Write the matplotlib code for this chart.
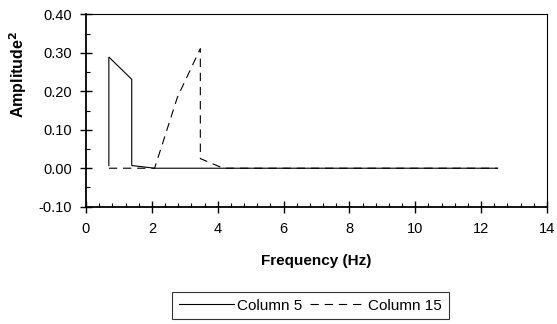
import matplotlib
matplotlib.use("Agg")
import matplotlib.pyplot as plt
from matplotlib.ticker import MultipleLocator, FormatStrFormatter

plt.rcParams['font.family'] = ['Liberation Sans', 'DejaVu Sans']
plt.rcParams['axes.unicode_minus'] = False
plt.rcParams['lines.scale_dashes'] = False

# Data
col5_freq = [0.694, 0.694, 1.389, 1.389, 2.083, 2.778, 3.472, 4.167, 4.861, 5.556,
             6.250, 6.944, 7.639, 8.333, 9.028, 9.722, 10.417, 11.111, 11.806, 12.500]
col5_amp = [0.007, 0.289, 0.231, 0.007, 0.000, 0.000, 0.000, 0.000, 0.000, 0.000,
            0.000, 0.000, 0.000, 0.000, 0.000, 0.000, 0.000, 0.000, 0.000, 0.000]
col15_freq = [0.694, 1.389, 2.083, 2.778, 3.472, 3.472, 4.167, 4.861, 5.556,
              6.250, 6.944, 7.639, 8.333, 9.028, 9.722, 10.417, 11.111, 11.806, 12.500]
col15_amp = [0.000, 0.000, 0.000, 0.185, 0.311, 0.025, 0.000, 0.000, 0.000,
             0.000, 0.000, 0.000, 0.000, 0.000, 0.000, 0.000, 0.000, 0.000, 0.000]
series_labels = ["Column 5", "Column 15"]
x_label = "Frequency (Hz)"
y_label = "Amplitude$^{\\mathbf{2}}$"

W, H = 557, 324
fig = plt.figure(figsize=(W / 100, H / 100), dpi=100)
ax = fig.add_axes([86 / W, 1 - 206.7 / H, (547 - 86) / W, (206.7 - 14.3) / H])

l1, = ax.plot(col5_freq, col5_amp, color='black', lw=0.8, solid_joinstyle='miter')
l2, = ax.plot(col15_freq, col15_amp, color='black', lw=0.8, dashes=(6, 4.2))

ax.set_xlim(0, 14)
ax.set_ylim(-0.1, 0.4)
ax.xaxis.set_major_locator(MultipleLocator(2))
ax.xaxis.set_minor_locator(MultipleLocator(0.4))
ax.yaxis.set_major_locator(MultipleLocator(0.1))
ax.yaxis.set_minor_locator(MultipleLocator(0.05))
ax.yaxis.set_major_formatter(FormatStrFormatter('%.2f'))

ax.tick_params(which='major', direction='inout', length=8, width=1.0, labelsize=10.5, color='black')
ax.tick_params(which='minor', direction='in', length=3, width=0.8, color='black')
ax.tick_params(axis='x', which='major', pad=7)
ax.tick_params(axis='y', which='major', pad=6)

for side in ['left', 'bottom']:
    ax.spines[side].set_linewidth(1.3)
for side in ['top', 'right']:
    ax.spines[side].set_linewidth(0.8)

fig.text(316.5 / W, 1 - 260.7 / H, x_label, ha='center', va='center',
         fontsize=11, fontweight='bold')
fig.text(18 / W, 1 - 74 / H, y_label, ha='center', va='center', rotation=90,
         fontsize=11.5, fontweight='bold')

leg = fig.legend([l1, l2], series_labels, loc='upper left',
                 bbox_to_anchor=(172 / W, 1 - 291.7 / H), borderaxespad=0,
                 ncol=2, fontsize=11, frameon=True, fancybox=False,
                 handlelength=3.6, handletextpad=0.2, columnspacing=0.5,
                 borderpad=0.45)
leg.get_frame().set_edgecolor('black')
leg.get_frame().set_linewidth(0.8)

fig.savefig('out.png', dpi=100)
